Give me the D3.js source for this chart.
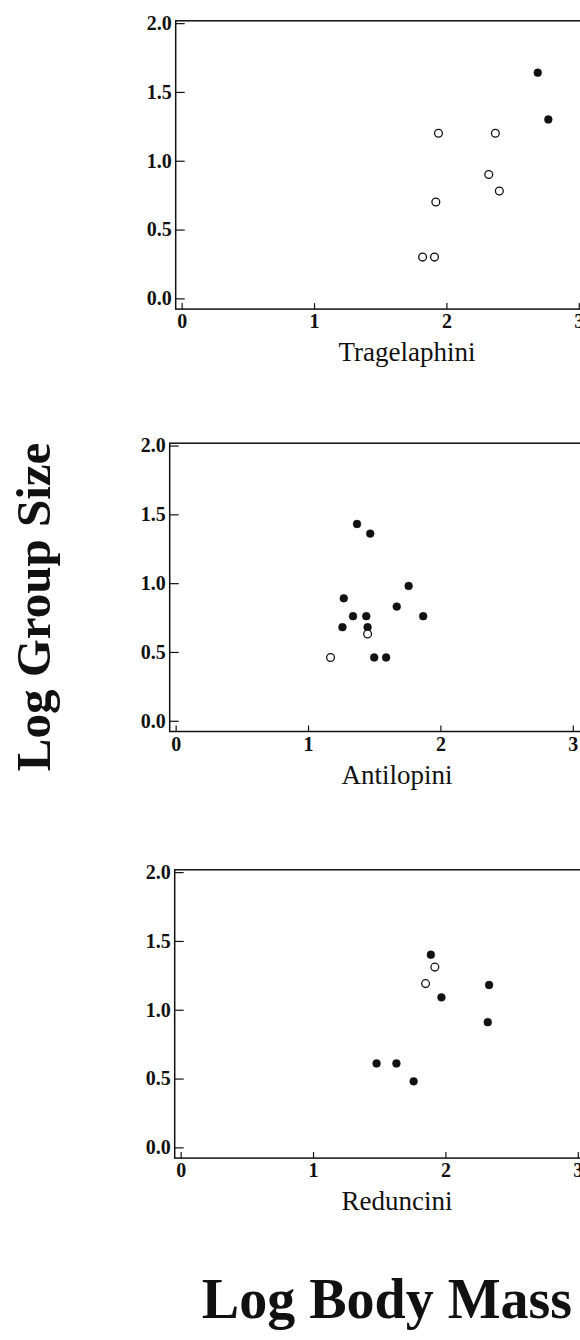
<!DOCTYPE html>
<html>
<head>
<meta charset="utf-8">
<script src="https://cdn.jsdelivr.net/npm/d3@7"></script>
<style>
  html, body { margin: 0; padding: 0; background: #fff; }
  svg { display: block; }
</style>
</head>
<body>
<svg id="chart"></svg>
<script>
// data (log10 body mass, log10 group size)
const tribes = ["Tragelaphini", "Antilopini", "Reduncini"];

const tragelaphiniMass  = [1.82, 1.91, 1.92, 1.94, 2.32, 2.37, 2.40, 2.69, 2.77];
const tragelaphiniGroup = [0.30, 0.30, 0.70, 1.20, 0.90, 1.20, 0.78, 1.64, 1.30];
const tragelaphiniFill  = [0, 0, 0, 0, 0, 0, 0, 1, 1];

const antilopiniMass  = [1.37, 1.47, 1.27, 1.76, 1.67, 1.34, 1.44, 1.26, 1.45, 1.87, 1.50, 1.59, 1.45, 1.17];
const antilopiniGroup = [1.43, 1.36, 0.89, 0.98, 0.83, 0.76, 0.76, 0.68, 0.68, 0.76, 0.46, 0.46, 0.63, 0.46];
const antilopiniFill  = [1, 1, 1, 1, 1, 1, 1, 1, 1, 1, 1, 1, 0, 0];

const reduncorMass  = [1.89, 1.97, 2.33, 2.32, 1.48, 1.63, 1.76, 1.92, 1.85];
const reduncorGroup = [1.40, 1.09, 1.18, 0.91, 0.61, 0.61, 0.48, 1.31, 1.19];
const reduncorFill  = [1, 1, 1, 1, 1, 1, 1, 0, 0];

const xTicks = [0, 1, 2, 3];
const yTicks = [0, 0.5, 1, 1.5, 2];
const yTickLabels = ["0.0", "0.5", "1.0", "1.5", "2.0"];
const yTitle = "Log Group Size";
const xTitle = "Log Body Mass";

const panelData = [
  { name: tribes[0], x: tragelaphiniMass, y: tragelaphiniGroup, f: tragelaphiniFill },
  { name: tribes[1], x: antilopiniMass, y: antilopiniGroup, f: antilopiniFill },
  { name: tribes[2], x: reduncorMass, y: reduncorGroup, f: reduncorFill }
];

const width = 580, height = 1340;
const svg = d3.select("#chart").attr("width", width).attr("height", height);
const serif = "'Liberation Serif', 'Times New Roman', serif";

// frame placement of each panel (scanned page, so not perfectly aligned)
const origins = [[175.7, 20.8], [169.7, 443.2], [174.7, 869.8]];
const labelX = [407, 397, 397];
const frameW = 460, frameH = 288.3;

const xScale = d3.scaleLinear().domain([-0.045, 3.43]).range([0, frameW]);
const yScale = d3.scaleLinear().domain([-0.078, 2.017]).range([frameH, 0]);

panelData.forEach((p, k) => {
  const g = svg.append("g")
    .attr("transform", `translate(${origins[k][0]},${origins[k][1]})`);

  // box
  g.append("rect")
    .attr("x", 0).attr("y", 0)
    .attr("width", frameW).attr("height", frameH)
    .attr("fill", "none").attr("stroke", "#111").attr("stroke-width", 1.5);

  // y axis, ticks pointing inward
  const ya = g.append("g").call(
    d3.axisLeft(yScale).tickValues(yTicks)
      .tickFormat((d, i) => yTickLabels[i])
      .tickSizeInner(-9).tickSizeOuter(0).tickPadding(4));
  ya.select(".domain").remove();
  ya.selectAll("line").attr("stroke", "#111").attr("stroke-width", 1.2);
  ya.selectAll("text")
    .attr("font-family", serif).attr("font-size", 20).attr("font-weight", "bold")
    .attr("fill", "#111");

  // x axis
  const xa = g.append("g").attr("transform", `translate(0,${frameH})`).call(
    d3.axisBottom(xScale).tickValues(xTicks)
      .tickFormat(d3.format("d"))
      .tickSizeInner(-6).tickSizeOuter(0).tickPadding(5));
  xa.select(".domain").remove();
  xa.selectAll("line").attr("stroke", "#111").attr("stroke-width", 1.2);
  xa.selectAll("text")
    .attr("font-family", serif).attr("font-size", 20).attr("font-weight", "bold")
    .attr("fill", "#111");

  // points
  g.selectAll("circle")
    .data(p.x.map((v, i) => ({ x: v, y: p.y[i], f: p.f[i] })))
    .enter()
    .append("circle")
    .attr("cx", d => xScale(d.x))
    .attr("cy", d => yScale(d.y))
    .attr("r", d => d.f ? 3.9 : 3.9)
    .attr("fill", d => d.f ? "#111" : "#fff")
    .attr("stroke", "#111")
    .attr("stroke-width", d => d.f ? 0.5 : 1.3);

  // tribe name
  svg.append("text")
    .attr("x", labelX[k])
    .attr("y", origins[k][1] + frameH + 52)
    .attr("text-anchor", "middle")
    .attr("font-family", serif).attr("font-size", 27)
    .attr("fill", "#111")
    .text(p.name);
});

// axis titles
svg.append("text")
  .attr("transform", "translate(50,607) rotate(-90)")
  .attr("text-anchor", "middle")
  .attr("font-family", serif).attr("font-size", 49).attr("font-weight", "bold")
  .attr("fill", "#111")
  .text(yTitle);

svg.append("text")
  .attr("x", 387).attr("y", 1318)
  .attr("text-anchor", "middle")
  .attr("font-family", serif).attr("font-size", 56).attr("font-weight", "bold")
  .attr("fill", "#111")
  .text(xTitle);
</script>
</body>
</html>
